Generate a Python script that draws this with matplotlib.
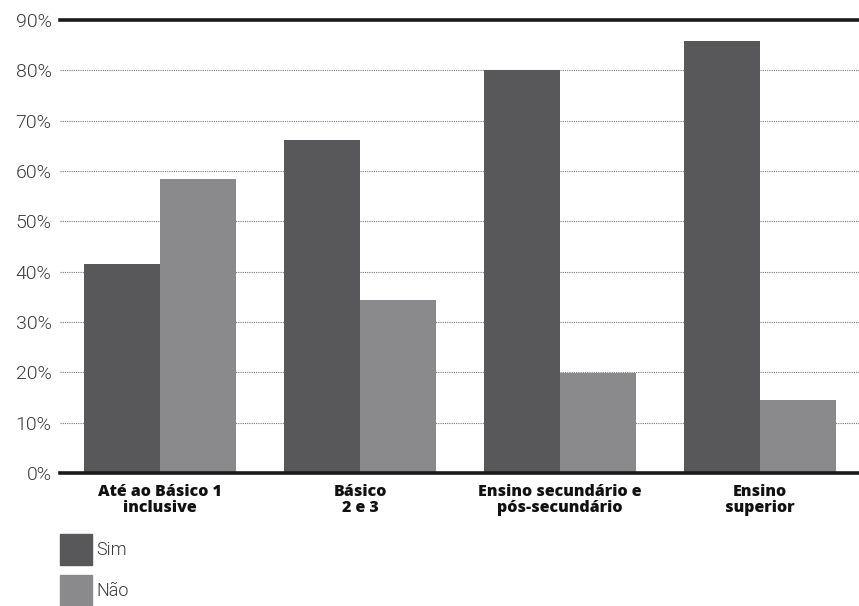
import numpy as np
import matplotlib.pyplot as plt
from matplotlib.patches import Patch

categories = ["Até ao Básico 1\ninclusive", "Básico\n2 e 3",
              "Ensino secundário e\npós-secundário", "Ensino\nsuperior"]
sim = [41.5, 66.2, 80.1, 85.8]
nao = [58.4, 34.4, 19.9, 14.5]
yticks = [0, 10, 20, 30, 40, 50, 60, 70, 80, 90]

c_sim = "#58585a"
c_nao = "#8a8a8c"

fig = plt.figure(figsize=(8.59, 6.06), dpi=100)
ax = fig.add_axes([60 / 859, 133 / 606, 799 / 859, 453 / 606])

x = np.arange(len(categories))
w = 0.38
ax.bar(x - w / 2, sim, w, color=c_sim, zorder=3)
ax.bar(x + w / 2, nao, w, color=c_nao, zorder=3)

ax.set_xlim(-0.5, 3.495)
ax.set_ylim(0, 90)

# linhas de grelha pontilhadas
for v in yticks[1:-1]:
    ax.axhline(v, color="#777777", lw=0.8, ls=(0, (1, 1)), zorder=1)
ax.axhline(0, color="#1a1a1a", lw=2.6, zorder=4, clip_on=False)
ax.axhline(90, color="#1a1a1a", lw=2.6, zorder=4, clip_on=False)

for s in ax.spines.values():
    s.set_visible(False)

ax.set_yticks(yticks)
ax.set_yticklabels([f"{v}%" for v in yticks], family="Roboto", fontweight=300,
                   fontsize=14, color="#3a3a3a")
ax.tick_params(axis="y", length=0, pad=6)

ax.set_xticks(x)
ax.set_xticklabels(categories, family="Open Sans", fontweight="heavy",
                   fontsize=11.5, color="#111111", linespacing=0.95)
ax.tick_params(axis="x", length=0, pad=8)

handles = [Patch(color=c_sim, label="Sim"), Patch(color=c_nao, label="Não")]
fig.legend(handles=handles, loc="upper left", bbox_to_anchor=(44 / 859, 1 - 518 / 606),
           frameon=False, handlelength=1.75, handleheight=2.25, handletextpad=0.25,
           labelspacing=0.55,
           prop={"family": "Roboto", "weight": 300, "size": 13})
for t in fig.legends[0].get_texts():
    t.set_color("#3a3a3a")

fig.savefig("out.png", dpi=100)
